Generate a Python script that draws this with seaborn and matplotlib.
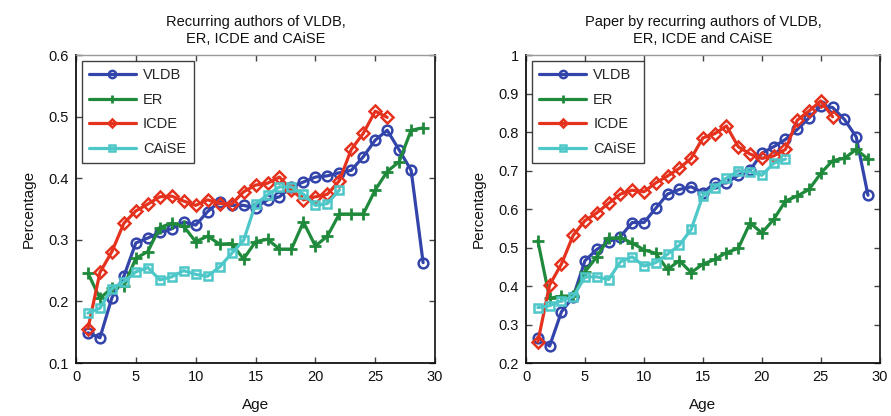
import matplotlib
matplotlib.use("Agg")
import matplotlib.pyplot as plt
import seaborn as sns
import pandas as pd
import numpy as np

sns.set_theme(style="white")
plt.rcParams['font.family'] = ['Liberation Sans', 'DejaVu Sans']

ages = list(range(1, 30))

# Left panel: recurring authors
l_vldb = [0.149, 0.141, 0.206, 0.241, 0.295, 0.303, 0.312, 0.318, 0.329, 0.324,
          0.346, 0.362, 0.356, 0.356, 0.352, 0.365, 0.370, 0.386, 0.394, 0.402,
          0.404, 0.409, 0.413, 0.435, 0.462, 0.478, 0.446, 0.413, 0.263]
l_er = [0.246, 0.205, 0.222, 0.225, 0.270, 0.281, 0.320, 0.327, 0.322, 0.297,
        0.306, 0.293, 0.294, 0.269, 0.297, 0.301, 0.285, 0.285, 0.329, 0.290,
        0.306, 0.342, 0.342, 0.342, 0.381, 0.411, 0.427, 0.478, 0.482]
l_icde = [0.156, 0.247, 0.281, 0.327, 0.347, 0.358, 0.370, 0.371, 0.363, 0.356,
          0.365, 0.359, 0.358, 0.378, 0.389, 0.392, 0.402, 0.381, 0.365, 0.370,
          0.374, 0.396, 0.447, 0.473, 0.509, 0.499]
l_caise = [0.181, 0.189, 0.221, 0.232, 0.248, 0.255, 0.235, 0.240, 0.250, 0.244,
           0.241, 0.256, 0.278, 0.299, 0.358, 0.373, 0.386, 0.386, 0.374, 0.356,
           0.359, 0.381]

# Right panel: papers by recurring authors
r_vldb = [0.266, 0.244, 0.333, 0.372, 0.466, 0.495, 0.515, 0.528, 0.565, 0.565,
          0.602, 0.639, 0.651, 0.658, 0.643, 0.667, 0.668, 0.688, 0.701, 0.745,
          0.762, 0.781, 0.807, 0.837, 0.868, 0.864, 0.833, 0.788, 0.636]
r_er = [0.518, 0.368, 0.374, 0.374, 0.437, 0.476, 0.524, 0.526, 0.512, 0.494,
        0.485, 0.443, 0.466, 0.435, 0.457, 0.469, 0.487, 0.498, 0.564, 0.538,
        0.573, 0.621, 0.634, 0.651, 0.693, 0.726, 0.732, 0.755, 0.730]
r_icde = [0.255, 0.403, 0.457, 0.532, 0.570, 0.590, 0.615, 0.639, 0.649, 0.645,
          0.668, 0.686, 0.706, 0.732, 0.785, 0.796, 0.816, 0.762, 0.743, 0.732,
          0.738, 0.755, 0.831, 0.855, 0.881, 0.840]
r_caise = [0.344, 0.349, 0.362, 0.372, 0.424, 0.424, 0.417, 0.463, 0.476, 0.452,
           0.461, 0.483, 0.506, 0.547, 0.635, 0.656, 0.680, 0.699, 0.697, 0.688,
           0.719, 0.730]

names = ["VLDB", "ER", "ICDE", "CAiSE"]
colors = {"VLDB": "#3345aa", "ER": "#1f8a3b", "ICDE": "#e5321f", "CAiSE": "#4ec7c9"}
markers = {"VLDB": "o", "ER": "+", "ICDE": "D", "CAiSE": "s"}
msizes = {"VLDB": 7, "ER": 8, "ICDE": 6, "CAiSE": 5.5}

titles = ["Recurring authors of VLDB,\nER, ICDE and CAiSE",
          "Paper by recurring authors of VLDB,\nER, ICDE and CAiSE"]
ylims = [(0.1, 0.6), (0.2, 1.0)]
yticks = [[0.1, 0.2, 0.3, 0.4, 0.5, 0.6],
          [0.2, 0.3, 0.4, 0.5, 0.6, 0.7, 0.8, 0.9, 1.0]]
ylabels = [["0.1", "0.2", "0.3", "0.4", "0.5", "0.6"],
           ["0.2", "0.3", "0.4", "0.5", "0.6", "0.7", "0.8", "0.9", "1"]]

panels = [dict(zip(names, [l_vldb, l_er, l_icde, l_caise])),
          dict(zip(names, [r_vldb, r_er, r_icde, r_caise]))]

fig = plt.figure(figsize=(8.91, 4.16), dpi=100)
axes = [fig.add_axes([0.0853, 0.1274, 0.403, 0.740]),
        fig.add_axes([0.5904, 0.1274, 0.397, 0.740])]

for ax, data, title, yl, yt, ytl in zip(axes, panels, titles, ylims, yticks, ylabels):
    for name in names:
        vals = data[name]
        df = pd.DataFrame({"Age": ages[:len(vals)], "Percentage": vals})
        mk = markers[name]
        kw = dict(marker=mk, markersize=msizes[name], color=colors[name],
                  linewidth=2.3, label=name, markeredgecolor=colors[name])
        if mk == "+":
            kw.update(markeredgewidth=2.0)
        else:
            kw.update(markerfacecolor="none", markeredgewidth=1.8)
        sns.lineplot(data=df, x="Age", y="Percentage", ax=ax, **kw)
    ax.set_xlim(0, 30)
    ax.set_ylim(*yl)
    ax.set_xticks([0, 5, 10, 15, 20, 25, 30])
    ax.set_yticks(yt)
    ax.set_yticklabels(ytl)
    ax.tick_params(direction="in", length=4, width=1.0, bottom=True, left=True,
                   top=True, right=True, labelsize=10.5, colors="#444444", pad=5)
    ax.tick_params(axis="both", labelcolor="#111111")
    for s in ["left", "bottom"]:
        ax.spines[s].set_color("#111111")
        ax.spines[s].set_linewidth(1.3)
    ax.spines["top"].set_color("#999999")
    ax.spines["top"].set_linewidth(1.0)
    ax.spines["right"].set_color("#222222")
    ax.spines["right"].set_linewidth(1.3)
    ax.set_title(title, fontsize=10.5, color="#111111", pad=9, linespacing=1.25)
    ax.set_xlabel("Age", fontsize=11, color="#111111", labelpad=10)
    ax.set_ylabel("Percentage", fontsize=11, color="#111111", labelpad=9)
    leg = ax.legend(loc="upper left", fontsize=10.5, frameon=True, fancybox=False,
                    edgecolor="#111111", handlelength=3.2, borderpad=0.5,
                    labelspacing=0.72, handletextpad=0.5, borderaxespad=0.4,
                    markerscale=0.75)
    leg.get_frame().set_linewidth(1.0)

fig.savefig("out.png", dpi=100, facecolor="white")
